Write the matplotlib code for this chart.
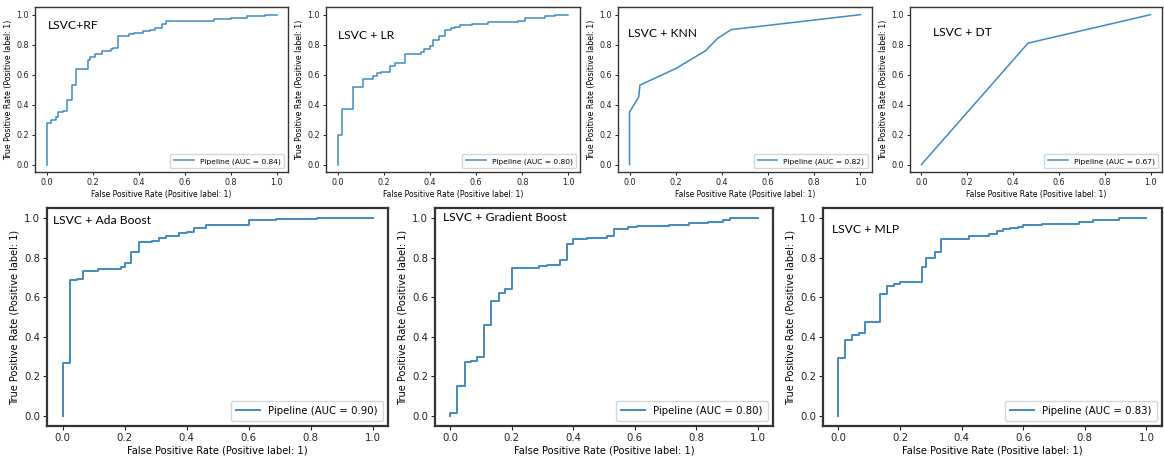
import matplotlib
matplotlib.use('Agg')
import matplotlib.pyplot as plt

# ROC curve points (fpr, tpr)
rf_fpr = [0, 0, 0.02, 0.04, 0.05, 0.07, 0.09, 0.11, 0.13, 0.18, 0.19, 0.21, 0.24, 0.28, 0.29,
          0.31, 0.33, 0.36, 0.38, 0.42, 0.45, 0.47, 0.50, 0.52, 0.60, 0.73, 0.80, 0.87, 0.95, 1.0]
rf_tpr = [0, 0.28, 0.30, 0.32, 0.35, 0.36, 0.43, 0.53, 0.64, 0.70, 0.72, 0.74, 0.76, 0.77, 0.78,
          0.855, 0.86, 0.87, 0.88, 0.89, 0.90, 0.91, 0.94, 0.955, 0.96, 0.97, 0.98, 0.99, 1.0, 1.0]

lr_fpr = [0, 0, 0.02, 0.068, 0.11, 0.155, 0.17, 0.19, 0.225, 0.25, 0.29, 0.34, 0.36, 0.375, 0.40,
          0.415, 0.44, 0.467, 0.49, 0.51, 0.53, 0.58, 0.65, 0.78, 0.81, 0.90, 0.94, 1.0]
lr_tpr = [0, 0.20, 0.37, 0.52, 0.57, 0.59, 0.61, 0.62, 0.66, 0.68, 0.735, 0.74, 0.75, 0.77, 0.79,
          0.83, 0.86, 0.90, 0.91, 0.92, 0.93, 0.94, 0.95, 0.96, 0.98, 0.99, 1.0, 1.0]

knn_fpr = [0, 0, 0.04, 0.045, 0.20, 0.33, 0.38, 0.44, 1.0]
knn_tpr = [0, 0.35, 0.45, 0.53, 0.64, 0.76, 0.84, 0.90, 1.0]

dt_fpr = [0, 0.465, 1.0]
dt_tpr = [0, 0.81, 1.0]

ada_fpr = [0, 0, 0.024, 0.046, 0.067, 0.116, 0.187, 0.20, 0.222, 0.246, 0.29, 0.31, 0.333, 0.376,
           0.40, 0.425, 0.463, 0.60, 0.69, 0.82, 1.0]
ada_tpr = [0, 0.27, 0.685, 0.69, 0.73, 0.74, 0.75, 0.775, 0.83, 0.877, 0.885, 0.90, 0.91, 0.925,
           0.93, 0.95, 0.965, 0.99, 0.995, 1.0, 1.0]

gb_fpr = [0, 0, 0.022, 0.047, 0.068, 0.087, 0.11, 0.133, 0.157, 0.177, 0.20, 0.287, 0.314, 0.357,
          0.378, 0.40, 0.444, 0.509, 0.533, 0.578, 0.607, 0.71, 0.775, 0.839, 0.888, 0.91, 1.0]
gb_tpr = [0, 0.015, 0.15, 0.275, 0.28, 0.30, 0.46, 0.58, 0.62, 0.64, 0.745, 0.755, 0.765, 0.79,
          0.87, 0.895, 0.90, 0.91, 0.945, 0.955, 0.96, 0.964, 0.972, 0.982, 0.992, 1.0, 1.0]

mlp_fpr = [0, 0, 0.023, 0.045, 0.068, 0.088, 0.134, 0.157, 0.18, 0.20, 0.27, 0.285, 0.313, 0.334,
           0.423, 0.49, 0.514, 0.534, 0.557, 0.583, 0.60, 0.66, 0.78, 0.825, 0.91, 1.0]
mlp_tpr = [0, 0.295, 0.385, 0.41, 0.42, 0.475, 0.615, 0.655, 0.665, 0.675, 0.75, 0.80, 0.83, 0.895,
           0.91, 0.92, 0.935, 0.945, 0.95, 0.955, 0.965, 0.97, 0.98, 0.99, 0.998, 1.0]

names = ['LSVC+RF', 'LSVC + LR', 'LSVC + KNN', 'LSVC + DT',
         'LSVC + Ada Boost', 'LSVC + Gradient Boost', 'LSVC + MLP']
aucs = [0.84, 0.80, 0.82, 0.67, 0.90, 0.80, 0.83]
curves = [(rf_fpr, rf_tpr), (lr_fpr, lr_tpr), (knn_fpr, knn_tpr), (dt_fpr, dt_tpr),
          (ada_fpr, ada_tpr), (gb_fpr, gb_tpr), (mlp_fpr, mlp_tpr)]
stepped = [True, True, False, False, True, True, True]

# axes boxes in figure fractions [left, bottom, width, height]
boxes = [[0.0301, 0.6285, 0.2174, 0.356],
         [0.2801, 0.6285, 0.2182, 0.356],
         [0.5309, 0.6285, 0.2182, 0.356],
         [0.7818, 0.6285, 0.2165, 0.356],
         [0.0404, 0.0799, 0.2930, 0.4708],
         [0.3737, 0.0799, 0.2904, 0.4708],
         [0.7070, 0.0799, 0.2912, 0.4708]]
# where each panel's name sits (axes fractions, left / vertical centre)
name_pos = [(0.05, 0.89), (0.047, 0.83), (0.04, 0.84), (0.09, 0.845),
            (0.018, 0.945), (0.024, 0.955), (0.027, 0.90)]

fig = plt.figure(figsize=(11.64, 4.63), dpi=100)

for i in range(7):
    small = i < 4
    ax = fig.add_axes(boxes[i])
    fpr, tpr = curves[i]
    ds = 'steps-post' if stepped[i] else 'default'
    ax.plot(fpr, tpr, color='#3f8ac6', lw=1.1 if small else 1.4, drawstyle=ds,
            label='Pipeline (AUC = %.2f)' % aucs[i])
    ax.set_xticks([0, 0.2, 0.4, 0.6, 0.8, 1.0])
    ax.set_yticks([0, 0.2, 0.4, 0.6, 0.8, 1.0])
    tx, ty = name_pos[i]
    ax.text(tx, ty, names[i], transform=ax.transAxes, fontsize=8.7, family='Lato', va='center')
    if small:
        ax.tick_params(labelsize=5.8, length=2.5, width=0.7, pad=2, colors='#222222')
        ax.set_xlabel('False Positive Rate (Positive label: 1)', fontsize=5.5, labelpad=2)
        ax.set_ylabel('True Positive Rate (Positive label: 1)', fontsize=5.7, labelpad=2)
        ax.legend(loc='lower right', fontsize=5.4, handlelength=2.6, borderpad=0.5)
        for s in ax.spines.values():
            s.set_linewidth(1.0)
            s.set_color('#333333')
    else:
        ax.tick_params(labelsize=7.3, length=3, width=0.8, pad=2, colors='#222222')
        ax.set_xlabel('False Positive Rate (Positive label: 1)', fontsize=7.1, labelpad=2)
        ax.set_ylabel('True Positive Rate (Positive label: 1)', fontsize=7.0, labelpad=3)
        ax.legend(loc='lower right', fontsize=7.3, handlelength=2.4, borderpad=0.5)
        for s in ax.spines.values():
            s.set_linewidth(1.6)
            s.set_color('#333333')

fig.savefig('out.png', dpi=100)
